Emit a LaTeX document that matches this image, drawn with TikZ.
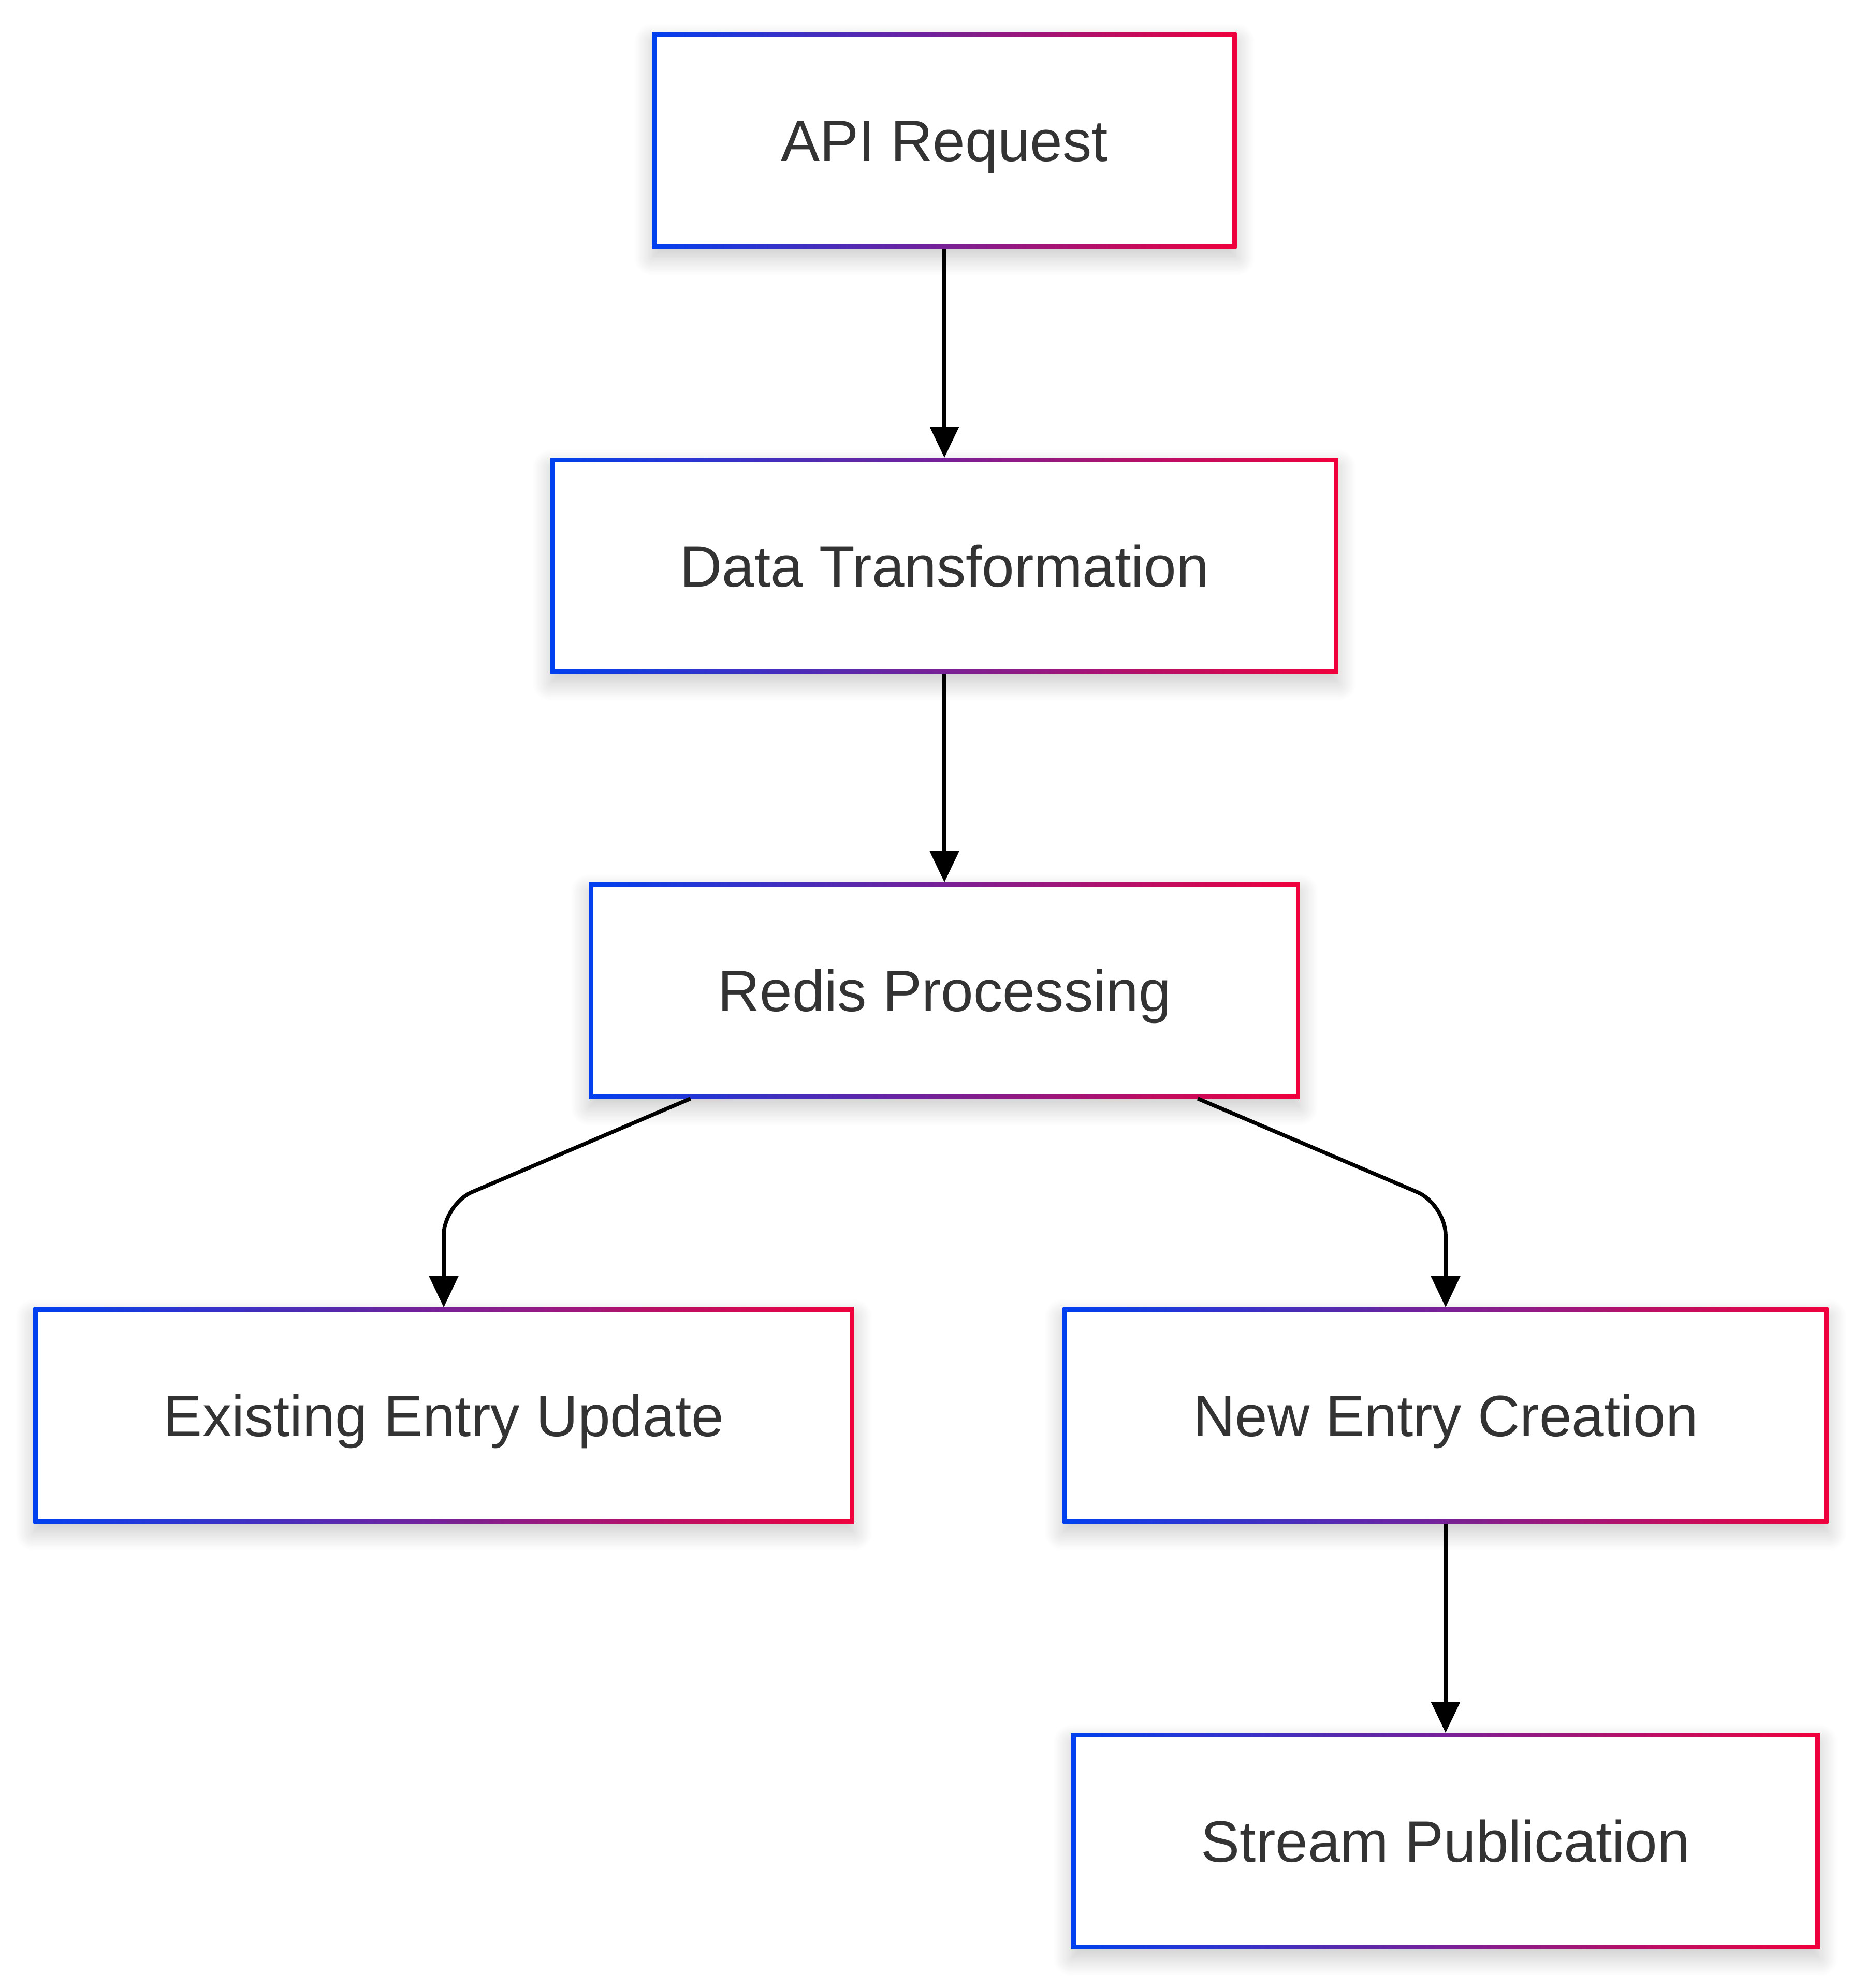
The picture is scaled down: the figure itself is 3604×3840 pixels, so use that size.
\documentclass[tikz,border=0pt]{standalone}
\usepackage{fontspec}
\setmainfont{Liberation Sans}
\usetikzlibrary{positioning,arrows.meta,shadows.blur}
\definecolor{flowblue}{HTML}{0040F0}
\definecolor{flowred}{HTML}{F0003C}
\definecolor{labelgray}{HTML}{333333}

\begin{document}
\begin{tikzpicture}
    [x=0.01cm,y=-0.01cm,
     box/.style={rectangle, draw=none, left color=flowblue, right color=flowred, minimum height=4.16cm, inner sep=0pt,
       text=labelgray, font=\fontsize{32}{38}\selectfont, text height=0.81cm, text depth=0pt,
       path picture={\fill[white] ([shift={(0.08cm,0.08cm)}]path picture bounding box.south west) rectangle ([shift={(-0.08cm,-0.08cm)}]path picture bounding box.north east);},
       blur shadow={shadow xshift=0cm, shadow yshift=-0.18cm, shadow blur radius=0.35cm, shadow blur steps=16, shadow opacity=22}},
     flow/.style={-{Triangle[length=0.6cm,width=0.55cm]}, line width=0.075cm, black}]
  \useasboundingbox (0,0) rectangle (3604,3840);

  \node[box, minimum width=11.28cm] (api) at (1824,271) {API Request};
  \node[box, minimum width=15.2cm] (transform) at (1824,1093) {Data Transformation};
  \node[box, minimum width=13.73cm] (redis) at (1824,1913) {Redis Processing};
  \node[box, minimum width=15.84cm] (update) at (857,2734) {Existing Entry Update};
  \node[box, minimum width=14.78cm] (create) at (2792,2734) {New Entry Creation};
  \node[box, minimum width=14.44cm] (publish) at (2792,3556) {Stream Publication};

  \coordinate (bendl) at (857,2326);
  \coordinate (bendr) at (2792,2326);

  \foreach \from/\to in {api/transform, transform/redis, create/publish}
    \draw[flow] (\from) -- (\to);

  \draw[flow, rounded corners=0.6cm] ([xshift=-4.9cm]redis.south) -- (bendl) -- (update.north);
  \draw[flow, rounded corners=0.6cm] ([xshift=4.89cm]redis.south) -- (bendr) -- (create.north);
\end{tikzpicture}
\end{document}
